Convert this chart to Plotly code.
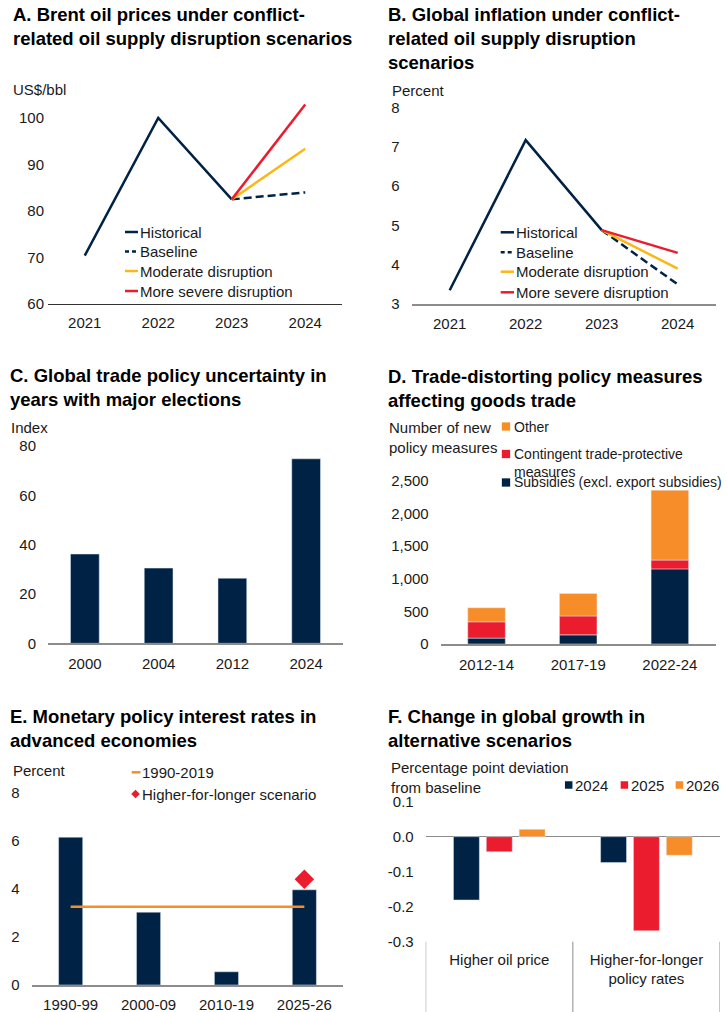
import plotly.graph_objects as go

W, H = 727, 1012          # browser window / figure size
OFF = 0                   # body margin removed by post_script below
FW, FH = W - OFF, H - OFF

# ---------------- data ----------------
# Panel A: Brent oil prices (US$/bbl)
years_a = ["2021", "2022", "2023", "2024"]
brent_historical = [70.4, 100.0, 82.5, None]
brent_baseline = [None, None, 82.5, 84.0]
brent_moderate = [None, None, 82.5, 93.4]
brent_severe = [None, None, 82.5, 102.9]

# Panel B: Global inflation (percent)
years_b = ["2021", "2022", "2023", "2024"]
infl_historical = [3.35, 7.17, 4.88, None]
infl_baseline = [None, None, 4.88, 3.5]
infl_moderate = [None, None, 4.88, 3.9]
infl_severe = [None, None, 4.88, 4.3]

# Panel C: Global trade policy uncertainty (index)
years_c = ["2000", "2004", "2012", "2024"]
tpu_index = [36.2, 30.5, 26.4, 74.8]

# Panel D: Trade-distorting policy measures (number)
periods_d = ["2012-14", "2017-19", "2022-24"]
subsidies = [90, 140, 1150]
contingent = [250, 290, 135]
other = [215, 345, 1070]
ticks_d = [0, 500, 1000, 1500, 2000, 2500]

# Panel E: Monetary policy interest rates (percent)
periods_e = ["1990-99", "2000-09", "2010-19", "2025-26"]
policy_rates = [6.15, 3.03, 0.55, 3.96]
avg_1990_2019 = [3.26, 3.26, 3.26, 3.26]
hfl_period = ["2025-26"]
hfl_rate = [4.4]

# Panel F: Change in global growth (pp deviation from baseline)
scenarios_f = ["Higher oil price", "Higher-for-longer<br>policy rates"]
growth_2024 = [-0.181, -0.074]
growth_2025 = [-0.043, -0.269]
growth_2026 = [0.021, -0.053]
ticks_f = [-0.3, -0.2, -0.1, 0.0, 0.1]
ticklabels_f = ["-0.3", "-0.2", "-0.1", "0.0", "0.1"]

# ---------------- style ----------------
NAVY = "#002345"
RED = "#EB1C2D"
ORANGE = "#F78D28"
YELLOW = "#FDB714"
GREY = "#8c8c8c"
TXT = "#1a1a1a"
FONT = "Liberation Sans, Arial, sans-serif"
FS = 15


def px(x):
    return (x - OFF) / FW


def py(y):
    return 1 - (y - OFF) / FH


def xdom(l, r):
    return [px(l), px(r)]


def ydom(v0, p0, v1, p1, lo, hi):
    s = (p0 - p1) / (v1 - v0)
    plo = p0 + (v0 - lo) * s
    phi = p0 - (hi - v0) * s
    return [py(plo), py(phi)]


fig = go.Figure()

# ---- Panel A ----
fig.add_trace(go.Scatter(x=years_a, y=brent_historical, name="Historical", mode="lines",
                         line=dict(color=NAVY, width=2.5), xaxis="x", yaxis="y", showlegend=False))
fig.add_trace(go.Scatter(x=years_a, y=brent_baseline, name="Baseline", mode="lines",
                         line=dict(color=NAVY, width=2.5, dash="8px,4px"), xaxis="x", yaxis="y", showlegend=False))
fig.add_trace(go.Scatter(x=years_a, y=brent_moderate, name="Moderate disruption", mode="lines",
                         line=dict(color=YELLOW, width=2.5), xaxis="x", yaxis="y", showlegend=False))
fig.add_trace(go.Scatter(x=years_a, y=brent_severe, name="More severe disruption", mode="lines",
                         line=dict(color=RED, width=2.5), xaxis="x", yaxis="y", showlegend=False))

# ---- Panel B ----
fig.add_trace(go.Scatter(x=years_b, y=infl_historical, name="Historical", mode="lines",
                         line=dict(color=NAVY, width=2.5), xaxis="x2", yaxis="y2", showlegend=False))
fig.add_trace(go.Scatter(x=years_b, y=infl_baseline, name="Baseline", mode="lines",
                         line=dict(color=NAVY, width=2.5, dash="8px,4px"), xaxis="x2", yaxis="y2", showlegend=False))
fig.add_trace(go.Scatter(x=years_b, y=infl_moderate, name="Moderate disruption", mode="lines",
                         line=dict(color=YELLOW, width=2.5), xaxis="x2", yaxis="y2", showlegend=False))
fig.add_trace(go.Scatter(x=years_b, y=infl_severe, name="More severe disruption", mode="lines",
                         line=dict(color=RED, width=2.5), xaxis="x2", yaxis="y2", showlegend=False))

# ---- Panel C ----
fig.add_trace(go.Bar(x=years_c, y=tpu_index, name="TPU", marker_color=NAVY, width=0.39,
                     xaxis="x3", yaxis="y3", showlegend=False))

# ---- Panel D (stacked via base) ----
base_contingent = list(subsidies)
base_other = [s + c for s, c in zip(subsidies, contingent)]
fig.add_trace(go.Bar(x=periods_d, y=subsidies, name="Subsidies (excl. export subsidies)",
                     marker_color=NAVY, width=0.41, offset=-0.205, xaxis="x4", yaxis="y4", showlegend=False))
fig.add_trace(go.Bar(x=periods_d, y=contingent, base=base_contingent, name="Contingent trade-protective measures",
                     marker_color=RED, width=0.41, offset=-0.205, xaxis="x4", yaxis="y4", showlegend=False))
fig.add_trace(go.Bar(x=periods_d, y=other, base=base_other, name="Other",
                     marker_color=ORANGE, width=0.41, offset=-0.205, xaxis="x4", yaxis="y4", showlegend=False))

# ---- Panel E ----
fig.add_trace(go.Bar(x=periods_e, y=policy_rates, name="Policy rates", marker_color=NAVY, width=0.31,
                     xaxis="x5", yaxis="y5", showlegend=False))
fig.add_trace(go.Scatter(x=periods_e, y=avg_1990_2019, name="1990-2019", mode="lines",
                         line=dict(color=ORANGE, width=2.5), xaxis="x5", yaxis="y5", showlegend=False))
fig.add_trace(go.Scatter(x=hfl_period, y=hfl_rate, name="Higher-for-longer scenario", mode="markers",
                         marker=dict(symbol="diamond", color=RED, size=15), xaxis="x5", yaxis="y5", showlegend=False))

# ---- Panel F ----
fig.add_trace(go.Bar(x=scenarios_f, y=growth_2024, name="2024", marker_color=NAVY,
                     xaxis="x6", yaxis="y6", showlegend=False))
fig.add_trace(go.Bar(x=scenarios_f, y=growth_2025, name="2025", marker_color=RED,
                     xaxis="x6", yaxis="y6", showlegend=False))
fig.add_trace(go.Bar(x=scenarios_f, y=growth_2026, name="2026", marker_color=ORANGE,
                     xaxis="x6", yaxis="y6", showlegend=False))

# ---------------- axes ----------------
tick_font = dict(family=FONT, size=FS, color=TXT)


def xax(domain, anchor, ncat, linecolor=GREY, linewidth=1.5, standoff=6, showline=True):
    return dict(domain=domain, anchor=anchor, type="category", range=[-0.5, ncat - 0.5],
                showgrid=False, zeroline=False, automargin=False,
                showline=showline, linecolor=linecolor, linewidth=linewidth, ticks="",
                tickfont=tick_font, ticklabelstandoff=standoff, fixedrange=True)


def yax(domain, anchor, rng, tickvals, standoff=11, ticktext=None, tickformat=None, zeroline=False):
    d = dict(domain=domain, anchor=anchor, range=rng, tickvals=tickvals, showgrid=False,
             zeroline=zeroline, showline=False, ticks="", tickfont=tick_font, automargin=False,
             ticklabelstandoff=standoff, fixedrange=True)
    if ticktext is not None:
        d["ticktext"] = ticktext
    if tickformat is not None:
        d["tickformat"] = tickformat
    return d


layout = dict(
    width=FW, height=FH, margin=dict(l=0, r=0, t=0, b=0, autoexpand=False),
    paper_bgcolor="white", plot_bgcolor="white",
    barmode="group", bargap=0.33, bargroupgap=0.21,
    font=dict(family=FONT, size=FS, color=TXT),
    showlegend=False, hovermode=False,
    xaxis=xax(xdom(48, 342), "y", 4, linecolor="#333333", linewidth=1, standoff=5),
    yaxis=yax(ydom(60, 304, 100, 118, 60, 105), "x", [60, 105], [60, 70, 80, 90, 100], standoff=3),
    xaxis2=xax(xdom(411.7, 715.7), "y2", 4, standoff=5),
    yaxis2=yax(ydom(3, 304, 8, 107.5, 3, 8), "x2", [3, 8], [3, 4, 5, 6, 7, 8]),
    xaxis3=xax(xdom(48, 343), "y3", 4, standoff=6),
    yaxis3=yax(ydom(0, 643.3, 80, 446, 0, 80), "x3", [0, 80], [0, 20, 40, 60, 80]),
    xaxis4=xax(xdom(440.7, 715.7), "y4", 3, standoff=6),
    yaxis4=yax(ydom(0, 644, 2500, 480.7, 0, 2500), "x4", [0, 2500], ticks_d, tickformat=","),
    xaxis5=xax(xdom(31.7, 343.3), "y5", 4, standoff=5),
    yaxis5=yax(ydom(0, 985, 8, 792.7, 0, 8), "x5", [0, 8], [0, 2, 4, 6, 8]),
    xaxis6=xax(xdom(425.7, 720), "y6", 2, showline=False, standoff=7),
    yaxis6=yax(ydom(-0.3, 941.7, 0.1, 801.7, -0.3, 0.1), "x6", [-0.3, 0.1], ticks_f,
               ticktext=ticklabels_f, zeroline=True),
)
layout["yaxis6"]["zerolinecolor"] = GREY
layout["yaxis6"]["zerolinewidth"] = 1.5
fig.update_layout(**layout)

# ---------------- text annotations ----------------
ann = []


def text(x, y, s, size=FS, bold=False, anchor="left"):
    ann.append(dict(x=px(x), y=py(y), xref="paper", yref="paper", text=s, showarrow=False,
                    xanchor=anchor, yanchor="middle", align="left",
                    font=dict(family=FONT, size=size, color="#000000" if bold else TXT)))


def title(x, y, s):
    text(x, y, "<b>" + s + "</b>", size=18.5, bold=True)


title(11, 26.5, "A. Brent oil prices under conflict-<br>related oil supply disruption scenarios")
title(385.7, 38, "B. Global inflation under conflict-<br>related oil supply disruption<br>scenarios")
title(7.5, 387.5, "C. Global trade policy uncertainty in<br>years with major elections")
title(385.7, 388, "D. Trade-distorting policy measures<br>affecting goods trade")
title(7.5, 728.3, "E. Monetary policy interest rates in<br>advanced economies")
title(385.7, 728.3, "F. Change in global growth in<br>alternative scenarios")

text(11, 89, "US$/bbl")
text(390, 90.7, "Percent")
text(9, 427.7, "Index")
text(387, 437.3, "Number of new<br>policy measures")
text(10.5, 770, "Percent")
text(389, 777.5, "Percentage point deviation<br>from baseline")

# ---------------- manual legends ----------------
shapes = []


def leg_line(x0, x1, y, color, dash="solid", width=2.5):
    shapes.append(dict(type="line", xref="paper", yref="paper", x0=px(x0), x1=px(x1), y0=py(y), y1=py(y),
                       line=dict(color=color, width=width, dash=dash)))


def leg_square(xc, yc, size, color):
    shapes.append(dict(type="rect", xref="paper", yref="paper", x0=px(xc - size / 2), x1=px(xc + size / 2),
                       y0=py(yc + size / 2), y1=py(yc - size / 2), line=dict(width=0), fillcolor=color))


def leg_diamond(xc, yc, r, color):
    path = "M {a},{b} L {c},{d} L {a},{e} L {f},{d} Z".format(
        a=px(xc), b=py(yc - r), c=px(xc + r), d=py(yc), e=py(yc + r), f=px(xc - r))
    shapes.append(dict(type="path", xref="paper", yref="paper", path=path, line=dict(width=0), fillcolor=color))


# A legend
legA = [("Historical", NAVY, "solid"), ("Baseline", NAVY, "4px,3px"),
        ("Moderate disruption", YELLOW, "solid"), ("More severe disruption", RED, "solid")]
for (lbl, col, dsh), yy in zip(legA, [232, 251.5, 271, 291]):
    leg_line(125, 138, yy, col, dsh)
    text(137.5, yy, lbl)

# B legend
for (lbl, col, dsh), yy in zip(legA, [232.3, 252.3, 271.7, 292.3]):
    leg_line(500.7, 514, yy, col, dsh)
    text(514, yy, lbl)

# D legend
FSD = 14
leg_square(506, 426.5, 8.3, ORANGE)
text(512, 426.5, "Other", size=FSD)
leg_square(506, 454, 8.3, RED)
text(512, 462.5, "Contingent trade-protective<br>measures", size=FSD)
leg_square(506, 482.5, 8.3, NAVY)
text(512, 482, "Subsidies (excl. export subsidies)", size=FSD)

# E legend
leg_line(131.7, 140.5, 772.3, ORANGE)
text(139.5, 772.3, "1990-2019")
leg_diamond(135.5, 794, 4.3, RED)
text(139.5, 794, "Higher-for-longer scenario")

# F legend
for lbl, col, xs in [("2024", NAVY, 568.7), ("2025", RED, 624.4), ("2026", ORANGE, 679.4)]:
    leg_square(xs, 785, 7.5, col)
    text(xs + 4.5, 785, lbl)

# F category dividers
for xb in [-0.5, 0.5, 1.5]:
    shapes.append(dict(type="line", xref="x6", yref="paper", x0=xb, x1=xb, y0=py(941.7), y1=0,
                       line=dict(color=GREY, width=1)))

fig.update_layout(annotations=ann, shapes=shapes)

fig.write_html("out.html", config={"displayModeBar": False, "staticPlot": True},
               post_script="document.body.style.margin='0';document.body.style.overflow='hidden';")
